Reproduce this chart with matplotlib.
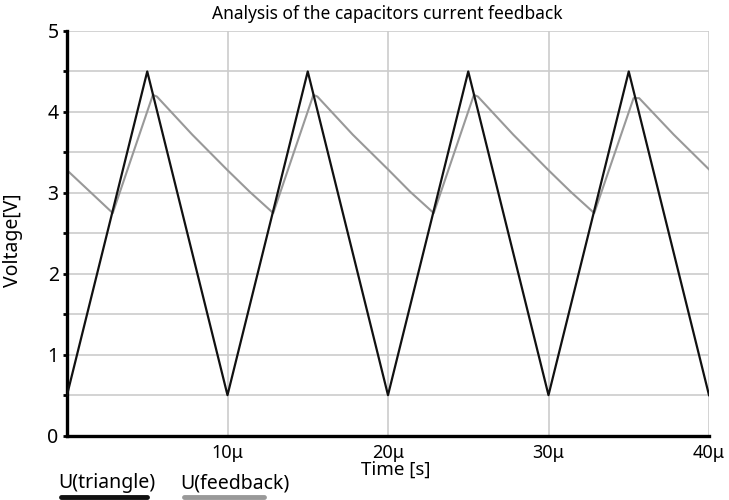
import matplotlib
matplotlib.use("Agg")
import matplotlib.pyplot as plt
from matplotlib.lines import Line2D

plt.rcParams['font.family'] = ['Noto Sans', 'DejaVu Sans']

# Data (time in microseconds)
tri_t = [0, 5, 10, 15, 20, 25, 30, 35, 40]
tri_v = [0.5, 4.5, 0.5, 4.5, 0.5, 4.5, 0.5, 4.5, 0.5]

fb_t = [0, 1.4, 2.85, 5.35, 5.6, 7.8, 10.0, 11.4, 12.85, 15.35, 15.6, 17.8, 20.0, 21.4, 22.85,
        25.35, 25.6, 27.8, 30.0, 31.4, 32.85, 35.3, 35.65, 37.8, 40.0]
fb_v = [3.28, 3.02, 2.75, 4.21, 4.19, 3.72, 3.28, 3.01, 2.75, 4.21, 4.19, 3.72, 3.29, 3.01, 2.75,
        4.21, 4.19, 3.72, 3.28, 3.01, 2.75, 4.17, 4.17, 3.72, 3.29]

x_ticks = [10, 20, 30, 40]
x_labels = ["10\u03bc", "20\u03bc", "30\u03bc", "40\u03bc"]
y_ticks = [0, 1, 2, 3, 4, 5]

W, H = 729, 500
fig = plt.figure(figsize=(7.29, 5.0), dpi=100)
ax = fig.add_axes([67/W, 1 - 435.6/H, (709 - 67)/W, (435.6 - 31)/H])

ax.set_xlim(0, 40)
ax.set_ylim(0, 5)

grid_c = '#cccccc'
for yv in [i * 0.5 for i in range(1, 11)]:
    ax.axhline(yv, color=grid_c, lw=1.2, zorder=0)
for xv in x_ticks:
    ax.axvline(xv, color=grid_c, lw=1.2, zorder=0)

ax.plot(fb_t, fb_v, color='#999999', lw=1.5, zorder=2)
ax.plot(tri_t, tri_v, color='#111111', lw=1.6, zorder=3)

for s in ['top', 'right']:
    ax.spines[s].set_visible(False)
ax.spines['left'].set_linewidth(2.4)
ax.spines['bottom'].set_linewidth(2.4)

ax.set_yticks(y_ticks)
ax.set_yticklabels([str(v) for v in y_ticks], fontsize=14)
ax.set_yticks([i * 0.5 for i in range(0, 11)], minor=True)
ax.tick_params(axis='y', which='major', length=3, width=2, pad=3)
ax.tick_params(axis='y', which='minor', length=3, width=2)
ax.set_xticks(x_ticks)
ax.set_xticklabels(x_labels, fontsize=13)
ax.tick_params(axis='x', length=0, pad=6)

ax.set_ylabel("Voltage[V]", fontsize=14, va='center')
ax.yaxis.set_label_coords((13 - 67) / 642, (435.6 - 240) / 404.6)
ax.set_xlabel("Time [s]", fontsize=13.5, va='center')
ax.xaxis.set_label_coords((396 - 67) / 642, (435.6 - 470) / 404.6)

fig.text(387/W, 1 - 14/H, "Analysis of the capacitors current feedback", fontsize=12.5,
         ha='center', va='center')

# Legend below the plot
fig.text(58/W, 1 - 483/H, "U(triangle)", fontsize=14, va='center', ha='left')
fig.text(180/W, 1 - 483/H, "U(feedback)", fontsize=14, va='center', ha='left')
fig.add_artist(Line2D([61/W, 147/W], [1 - 497/H, 1 - 497/H], color='#111111', lw=3.5,
                      solid_capstyle='round', transform=fig.transFigure))
fig.add_artist(Line2D([184/W, 264/W], [1 - 497/H, 1 - 497/H], color='#999999', lw=3.5,
                      solid_capstyle='round', transform=fig.transFigure))

fig.savefig("out.png", dpi=100)
